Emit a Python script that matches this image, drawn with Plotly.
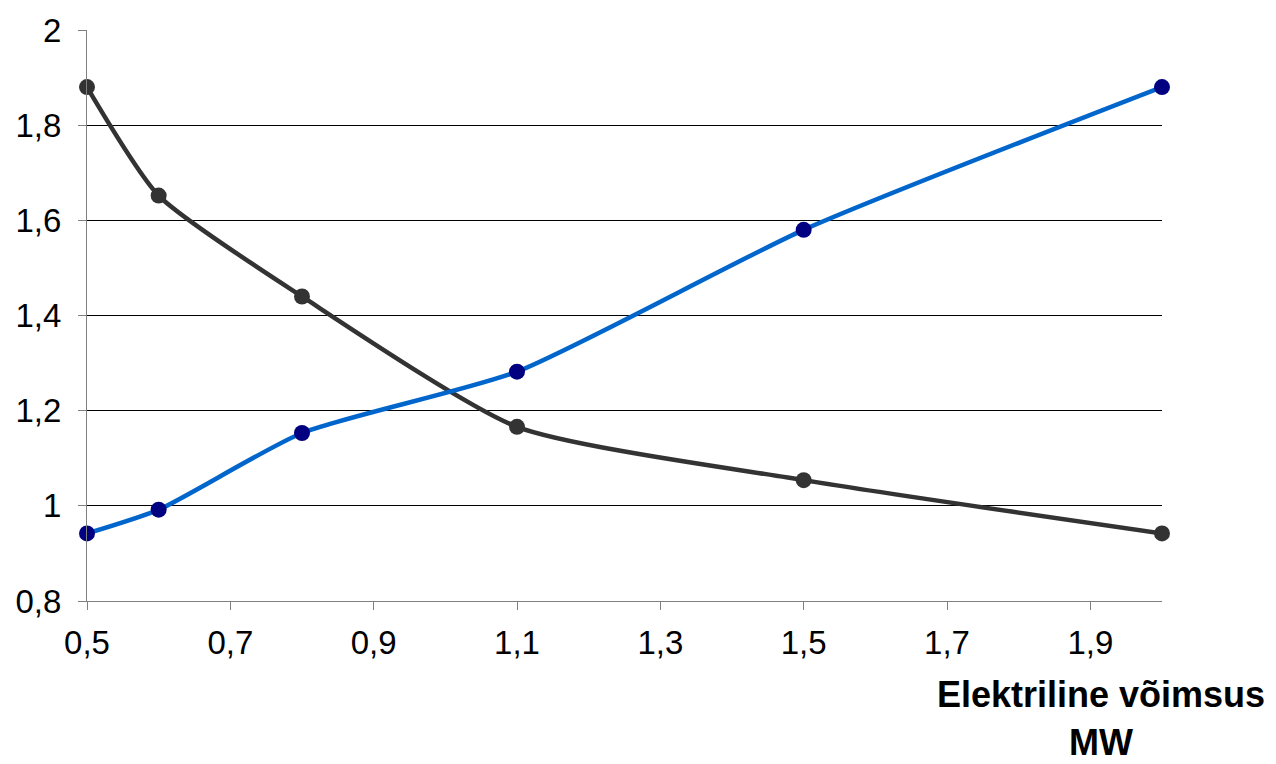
import plotly.graph_objects as go

# Electric power (MW) and the two ratio series
power_mw = [0.5, 0.6, 0.8, 1.1, 1.5, 2.0]
series_dark = [1.88, 1.652, 1.44, 1.166, 1.054, 0.942]
series_blue = [0.942, 0.992, 1.153, 1.282, 1.58, 1.88]

x_ticks = [0.5, 0.7, 0.9, 1.1, 1.3, 1.5, 1.7, 1.9]
x_tick_text = ["0,5", "0,7", "0,9", "1,1", "1,3", "1,5", "1,7", "1,9"]
y_ticks = [0.8, 1.0, 1.2, 1.4, 1.6, 1.8, 2.0]
y_tick_text = ["0,8", "1", "1,2", "1,4", "1,6", "1,8", "2"]

x_title_lines = ["Elektriline võimsus", "MW"]

FONT = "Liberation Sans, Arial, sans-serif"

fig = go.Figure()
fig.add_trace(go.Scatter(
    x=power_mw, y=series_dark, mode="lines+markers",
    line=dict(color="#333333", width=4.5, shape="spline", smoothing=0.6),
    marker=dict(color="#333333", size=16),
    cliponaxis=False, showlegend=False,
))
fig.add_trace(go.Scatter(
    x=power_mw, y=series_blue, mode="lines+markers",
    line=dict(color="#0066CC", width=4.5, shape="spline", smoothing=0.6),
    marker=dict(color="#000080", size=16),
    cliponaxis=False, showlegend=False,
))

# axis title sits below the tick labels, centred under the right end of the x axis
title_x = 1.0 + (1101 - 1162) / 1075
title_font = dict(family=FONT, size=36, color="black")

fig.update_layout(
    width=1276, height=764, autosize=False,
    margin=dict(l=87, r=114, t=27, b=163),
    paper_bgcolor="white", plot_bgcolor="white",
    font=dict(family=FONT, size=33, color="black"),
    xaxis=dict(
        range=[0.5, 2.0], tickvals=x_ticks, ticktext=x_tick_text,
        showgrid=False, zeroline=False,
        showline=True, linecolor="#808080", linewidth=1,
        ticks="outside", ticklen=8, tickcolor="#808080",
        tickfont=dict(family=FONT, size=33, color="black"),
        ticklabelstandoff=4,
    ),
    yaxis=dict(
        range=[0.8, 2.0], tickvals=y_ticks, ticktext=y_tick_text,
        showgrid=True, gridcolor="black", gridwidth=1, zeroline=False,
        showline=True, linecolor="#808080", linewidth=1,
        ticks="outside", ticklen=8, tickcolor="#808080",
        tickfont=dict(family=FONT, size=33, color="black"),
        ticklabelstandoff=10,
    ),
    annotations=[
        dict(
            text=f"<b>{x_title_lines[0]}</b>",
            xref="paper", yref="paper", x=title_x, y=0,
            xanchor="center", yanchor="top", yshift=-72,
            showarrow=False, font=title_font, borderpad=0,
        ),
        dict(
            text=f"<b>{x_title_lines[1]}</b>",
            xref="paper", yref="paper", x=title_x, y=0,
            xanchor="center", yanchor="bottom", yshift=-163,
            showarrow=False, font=title_font, borderpad=0,
        ),
    ],
)

fig.write_html("out.html")
